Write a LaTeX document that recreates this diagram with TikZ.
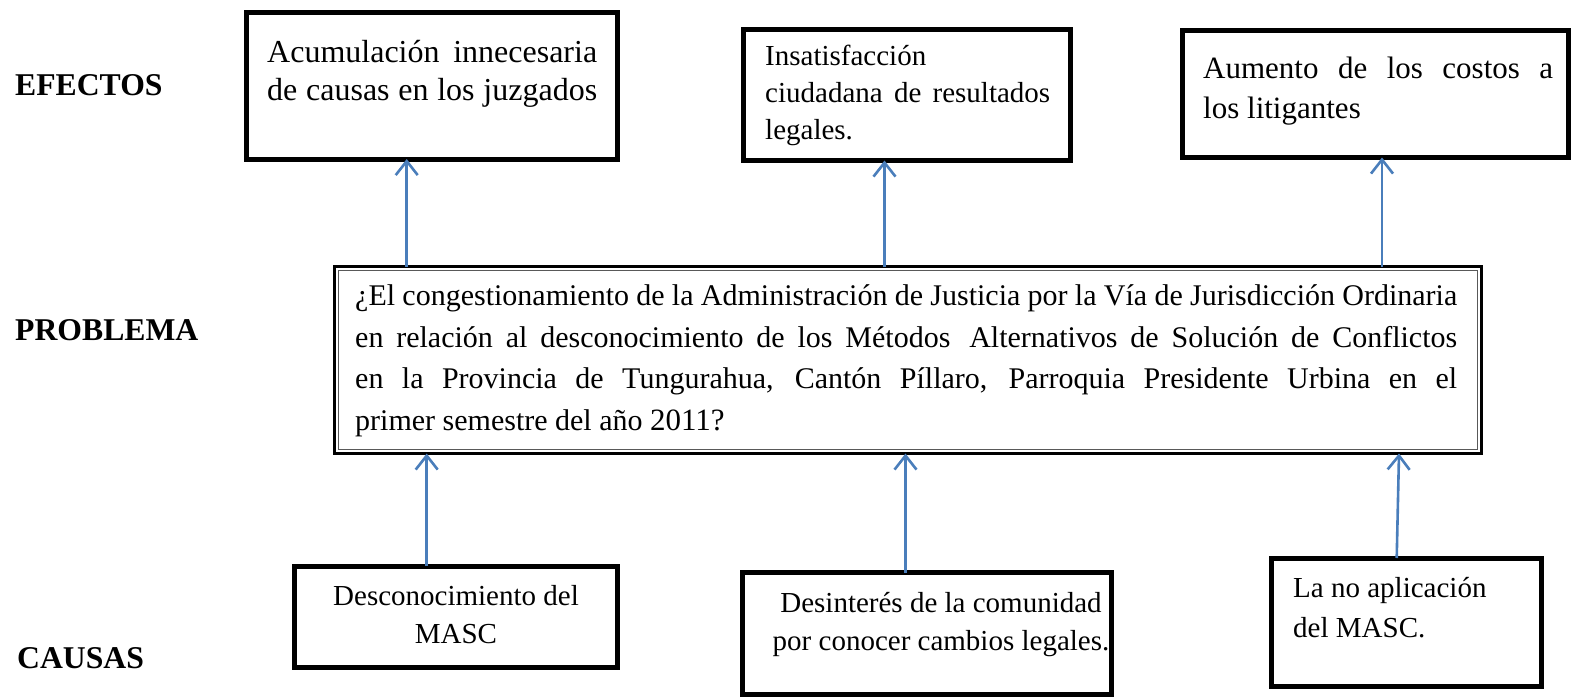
\documentclass[tikz,border=0pt]{standalone}
\usepackage{fontspec}
\setmainfont{Liberation Serif}
\usetikzlibrary{arrows.meta}
\definecolor{arrblue}{HTML}{4A7EBB}
\begin{document}
\begin{tikzpicture}[x=1pt,y=-1pt,
  effbox/.style={draw=black, line width=5pt, inner sep=0pt, outer sep=0pt, rectangle},
  probbox/.style={draw=black, line width=3pt, inner sep=0pt, outer sep=0pt, rectangle},
  txt/.style={anchor=base west, inner sep=0pt, font=\fontsize{29}{36}\selectfont},
  ctxt/.style={anchor=base, inner sep=0pt, font=\fontsize{29}{36}\selectfont},
  ptxt/.style={anchor=base west, inner sep=0pt, font=\fontsize{30}{36}\selectfont},
  lab/.style={anchor=base west, inner sep=0pt, font=\fontsize{31.7}{38}\selectfont\bfseries},
  arr/.style={draw=arrblue, line width=2.6pt, -{Straight Barb[length=14pt, width=22pt, line width=2.6pt]}}
]
\useasboundingbox (0,0) rectangle (1573,699);

% labels
\node[lab] (lef) at (15,95) {EFECTOS};
\node[lab] (lpr) at (15,340) {PROBLEMA};
\node[lab] (lca) at (17,668) {CAUSAS};

% effect boxes
\node[effbox, minimum width=371pt, minimum height=146.5pt] (e1) at (432,85.75) {};
\node[effbox, minimum width=327pt, minimum height=131.5pt] (e2) at (907,94.75) {};
\node[effbox, minimum width=386pt, minimum height=127pt] (e3) at (1375.5,94) {};

% problem box
\node[probbox, minimum width=1147pt, minimum height=187pt] (prob) at (908,360) {};
\draw[line width=1.2pt, black!65] ([shift={(4,4)}]prob.north west) rectangle ([shift={(-4,-4)}]prob.south east);

% cause boxes
\node[effbox, minimum width=323pt, minimum height=101.5pt] (c1) at (456,616.75) {};
\node[effbox, minimum width=369pt, minimum height=121.5pt] (c2) at (926.5,633.25) {};
\node[effbox, minimum width=270pt, minimum height=128.5pt] (c3) at (1406.5,622.25) {};

% texts
\node[txt, font=\fontsize{32}{36}\selectfont] (t1a) at (267,62.5) {\makebox[330pt][s]{Acumulación innecesaria}};
\node[txt, font=\fontsize{32}{36}\selectfont] (t1b) at (267,100.5) {\makebox[330pt][s]{de causas en los juzgados}};

\node[txt] (t2a) at (765,65) {Insatisfacción};
\node[txt] (t2b) at (765,102) {\makebox[285pt][s]{ciudadana de resultados}};
\node[txt] (t2c) at (765,139) {legales.};

\node[txt, font=\fontsize{31}{36}\selectfont] (t3a) at (1203,78) {\makebox[350pt][s]{Aumento de los costos a}};
\node[txt, font=\fontsize{31}{36}\selectfont] (t3b) at (1203,118) {los litigantes};

\node[ptxt] (p1) at (355,305) {\makebox[1102pt][s]{¿El congestionamiento de la Administración de Justicia por la Vía de Jurisdicción Ordinaria}};
\node[ptxt] (p2) at (355,347) {\makebox[1102pt][s]{en relación al desconocimiento de los Métodos\kern6pt{} Alternativos de Solución de Conflictos}};
\node[ptxt] (p3) at (355,388) {\makebox[1102pt][s]{en la Provincia de Tungurahua, Cantón Píllaro, Parroquia Presidente Urbina en el}};
\node[ptxt] (p4) at (355,430) {primer semestre del año {\fontsize{31}{36}\selectfont 2011?}};

\node[ctxt] (t4a) at (456,605) {Desconocimiento del};
\node[ctxt] (t4b) at (456,643) {MASC};

\node[ctxt] (t5a) at (941,612) {Desinterés de la comunidad};
\node[ctxt] (t5b) at (941,650) {por conocer cambios legales.};

\node[txt] (t6a) at (1293,597) {La no aplicación};
\node[txt] (t6b) at (1293,637) {del MASC.};

% arrows
\draw[arr] (406.7,0 |- prob.north) -- (406.7,0 |- e1.south);
\draw[arr] (884.5,0 |- prob.north) -- (884.5,0 |- e2.south);
\draw[arr] (1382,0 |- prob.north) -- (1382,0 |- e3.south);
\draw[arr] (426.7,0 |- c1.north) -- (426.7,0 |- prob.south);
\draw[arr] (905.5,0 |- c2.north) -- (905.5,0 |- prob.south);
\draw[arr] (1396.7,0 |- c3.north) -- (1399,0 |- prob.south);
\end{tikzpicture}
\end{document}
